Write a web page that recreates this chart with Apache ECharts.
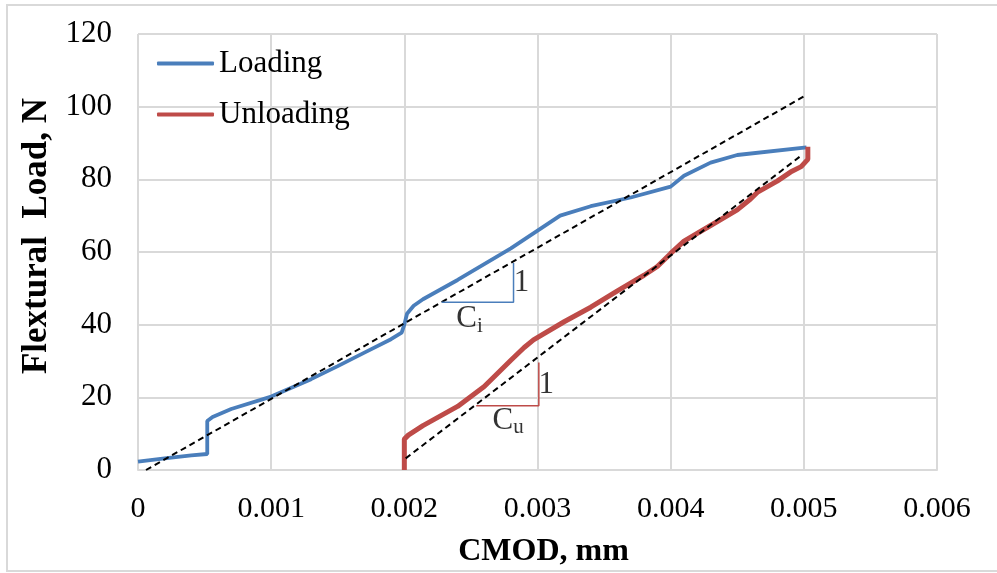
<!DOCTYPE html>
<html>
<head>
<meta charset="utf-8">
<script src="https://cdn.jsdelivr.net/npm/echarts@6/dist/echarts.min.js"></script>
<style>
html,body{margin:0;padding:0;background:#fff;}
#chart{width:997px;height:573px;}
</style>
</head>
<body>
<div id="chart"></div>
<script>
// ---- data ----
const loadingX = [0, 0.0002, 0.0004, 0.00052, 0.00052, 0.00056, 0.0007, 0.001, 0.0013, 0.0015, 0.0017, 0.0019, 0.00198, 0.002, 0.00202, 0.00207, 0.00214, 0.0024, 0.0028, 0.00317, 0.0034, 0.0037, 0.004, 0.0041, 0.0043, 0.0045, 0.00502];
const loadingY = [2.3, 3.2, 4.0, 4.4, 13.5, 14.6, 16.8, 20.2, 25.0, 28.6, 32.3, 36.0, 37.8, 40.0, 43.0, 45.2, 47.0, 52.3, 61.0, 70.0, 72.6, 75.0, 78.0, 81.0, 84.6, 86.7, 88.8];

const unloadingX = [0.002, 0.002, 0.00203, 0.00214, 0.0024, 0.0026, 0.0028, 0.0029, 0.00297, 0.0032, 0.0034, 0.0036, 0.0038, 0.0039, 0.004, 0.0041, 0.0043, 0.0045, 0.0046, 0.00465, 0.0048, 0.0049, 0.00498, 0.00503, 0.00503];
const unloadingY = [0, 8.5, 9.6, 12.2, 17.5, 23.0, 30.2, 33.7, 35.8, 40.8, 44.8, 49.3, 53.6, 56.0, 59.6, 63.0, 67.3, 71.6, 74.6, 76.4, 79.5, 82.0, 83.5, 85.5, 89.0];

// dashed fitted lines (start / end points)
const ciLineX = [0.00006, 0.005];
const ciLineY = [0, 102.8];
const cuLineX = [0.00201, 0.00499];
const cuLineY = [3.2, 86.8];

// slope triangles
const ciTriX = [0.00228, 0.00282, 0.00282];
const ciTriY = [46.2, 46.2, 57.0];
const cuTriX = [0.00254, 0.00301, 0.00301];
const cuTriY = [17.7, 17.7, 29.6];

// annotation labels: [x, y, text]
const ciLabels = [[0.00288, 51.6, '1'], [0.00249, 41.5, 'C{sub|i}']];
const cuLabels = [[0.003065, 23.3, '1'], [0.00278, 13.5, 'C{sub|u}']];

const xTicks = ['0', '0.001', '0.002', '0.003', '0.004', '0.005', '0.006'];
const yTicks = [0, 20, 40, 60, 80, 100, 120];

const seriesNames = ['Loading', 'Unloading'];
const xTitle = 'CMOD, mm';
const yTitle = 'Flextural  Load, N';

// ---- helpers ----
const zip = (xs, ys) => xs.map((x, i) => [x, ys[i]]);
const FONT = '"Liberation Serif", "Times New Roman", serif';
const BLUE = '#4a7ebb';
const RED = '#be4b48';

const chart = echarts.init(document.getElementById('chart'));

function labelSeries(name, pts) {
  return {
    name: name,
    type: 'scatter',
    symbolSize: 1,
    itemStyle: { color: 'rgba(0,0,0,0)' },
    silent: true,
    z: 5,
    data: pts.map(p => ({ value: [p[0], p[1]], text: p[2] })),
    label: {
      show: true,
      position: 'inside',
      formatter: p => p.data.text,
      fontFamily: FONT,
      fontSize: 31,
      color: '#000',
      rich: {
        sub: { fontFamily: FONT, fontSize: 21, color: '#000', verticalAlign: 'bottom', padding: [14, 0, 0, 0] }
      }
    }
  };
}

const option = {
  animation: false,
  backgroundColor: '#fff',
  textStyle: { fontFamily: FONT },
  graphic: [{
    type: 'rect',
    shape: { x: 7, y: 5, width: 996, height: 566 },
    style: { fill: 'none', stroke: '#d9d9d9', lineWidth: 2 },
    silent: true
  }],
  grid: { left: 138, right: 60, top: 34, bottom: 102 },
  legend: {
    data: seriesNames,
    orient: 'vertical',
    left: 152,
    top: 43,
    itemWidth: 57,
    itemHeight: 4,
    itemGap: 20,
    icon: 'roundRect',
    textStyle: { fontFamily: FONT, fontSize: 31, color: '#000', lineHeight: 30 }
  },
  xAxis: {
    type: 'value',
    min: 0,
    max: 0.006,
    interval: 0.001,
    name: xTitle,
    nameLocation: 'middle',
    nameGap: 66,
    nameTextStyle: { fontFamily: FONT, fontSize: 32, fontWeight: 'bold', color: '#000', padding: [0, 0, 0, 12] },
    axisLine: { show: true, lineStyle: { color: '#d9d9d9', width: 2 } },
    axisTick: { show: false },
    axisLabel: {
      margin: 24,
      fontFamily: FONT, fontSize: 30, color: '#000',
      formatter: (v) => xTicks[Math.round(v / 0.001)]
    },
    splitLine: { show: true, lineStyle: { color: '#d9d9d9', width: 2 } }
  },
  yAxis: {
    type: 'value',
    min: 0,
    max: 120,
    interval: 20,
    name: yTitle,
    nameLocation: 'middle',
    nameGap: 82,
    nameRotate: 90,
    nameTextStyle: { fontFamily: FONT, fontSize: 35, fontWeight: 'bold', color: '#000', padding: [0, 0, 0, 32] },
    axisLine: { show: false },
    axisTick: { show: false },
    axisLabel: {
      margin: 26,
      fontFamily: FONT, fontSize: 31, color: '#000',
      formatter: (v) => String(yTicks[Math.round(v / 20)])
    },
    splitLine: { show: true, lineStyle: { color: '#d9d9d9', width: 2 } }
  },
  series: [
    {
      name: seriesNames[0],
      type: 'line',
      data: zip(loadingX, loadingY),
      showSymbol: false,
      symbol: 'none',
      lineStyle: { color: BLUE, width: 3.8 },
      itemStyle: { color: BLUE },
      z: 3
    },
    {
      name: seriesNames[1],
      type: 'line',
      data: zip(unloadingX, unloadingY),
      showSymbol: false,
      symbol: 'none',
      lineStyle: { color: RED, width: 5 },
      itemStyle: { color: RED },
      z: 3
    },
    {
      name: 'Ci fit',
      type: 'line',
      data: zip(ciLineX, ciLineY),
      symbol: 'none',
      lineStyle: { color: '#000', width: 2, type: [6, 4] },
      z: 4
    },
    {
      name: 'Cu fit',
      type: 'line',
      data: zip(cuLineX, cuLineY),
      symbol: 'none',
      lineStyle: { color: '#000', width: 2, type: [6, 4] },
      z: 4
    },
    {
      name: 'Ci triangle',
      type: 'line',
      data: zip(ciTriX, ciTriY),
      symbol: 'none',
      lineStyle: { color: BLUE, width: 1.5 },
      z: 4
    },
    {
      name: 'Cu triangle',
      type: 'line',
      data: zip(cuTriX, cuTriY),
      symbol: 'none',
      lineStyle: { color: RED, width: 1.5 },
      z: 4
    },
    labelSeries('Ci labels', ciLabels),
    labelSeries('Cu labels', cuLabels)
  ]
};
chart.setOption(option);
</script>
</body>
</html>
